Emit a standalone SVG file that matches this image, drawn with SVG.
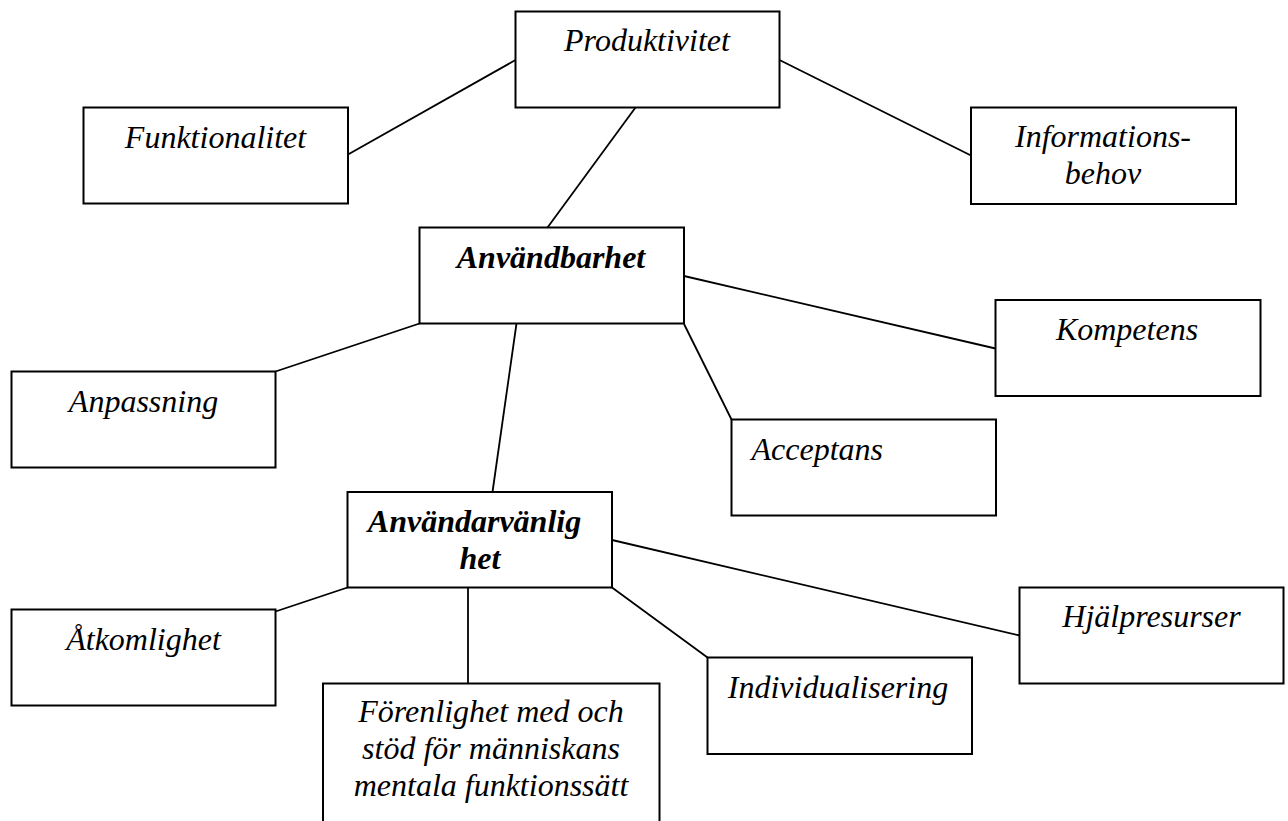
<svg xmlns="http://www.w3.org/2000/svg" width="1288" height="821" viewBox="0 0 1288 821">
  <style>
    .box { fill: #fff; stroke: #000; stroke-width: 2; }
    .lbl { font-family: "Liberation Serif", "Times New Roman", serif; font-style: italic; font-size: 32px; fill: #000; text-anchor: middle; }
    .bold { font-weight: bold; }
    .left { text-anchor: start; }
    #connectors line { stroke: #000; stroke-width: 1.8; }
  </style>
  <rect width="1288" height="821" fill="#fff"/>

  <!-- connectors between concept boxes -->
  <g id="connectors">
    <line x1="348" y1="154.5" x2="515.5" y2="60"/>
    <line x1="779.5" y1="60" x2="971" y2="155.5"/>
    <line x1="635.5" y1="107.5" x2="547.5" y2="227.5"/>
    <line x1="419.5" y1="323.5" x2="275.5" y2="371.5"/>
    <line x1="684" y1="276" x2="995.5" y2="348.5"/>
    <line x1="684" y1="324" x2="731.5" y2="419.5"/>
    <line x1="516.5" y1="323.5" x2="492.5" y2="492"/>
    <line x1="347.5" y1="587.5" x2="275.5" y2="611.5"/>
    <line x1="468" y1="587.5" x2="468" y2="683.5"/>
    <line x1="612" y1="587.5" x2="707.5" y2="657.5"/>
    <line x1="612" y1="540" x2="1019.5" y2="635.5"/>
  </g>

  <g id="produktivitet">
    <rect class="box" x="515.5" y="11.5" width="264" height="96"/>
    <text class="lbl" x="647" y="51">Produktivitet</text>
  </g>

  <g id="funktionalitet">
    <rect class="box" x="83.5" y="107.5" width="264.5" height="96"/>
    <text class="lbl" x="215.5" y="148">Funktionalitet</text>
  </g>

  <g id="informationsbehov">
    <rect class="box" x="971" y="107.5" width="265" height="96.5"/>
    <text class="lbl" x="1103" y="146.5">Informations-</text>
    <text class="lbl" x="1103" y="183.5">behov</text>
  </g>

  <g id="anvandbarhet">
    <rect class="box" x="419.5" y="227.5" width="264.5" height="96"/>
    <text class="lbl bold" x="551" y="268">Användbarhet</text>
  </g>

  <g id="anpassning">
    <rect class="box" x="11.5" y="371.5" width="264" height="96"/>
    <text class="lbl" x="143.5" y="411.5">Anpassning</text>
  </g>

  <g id="kompetens">
    <rect class="box" x="995.5" y="300" width="265" height="96"/>
    <text class="lbl" x="1127" y="340">Kompetens</text>
  </g>

  <g id="acceptans">
    <rect class="box" x="731.5" y="419.5" width="264.5" height="96"/>
    <text class="lbl left" x="751.5" y="459.5">Acceptans</text>
  </g>

  <g id="anvandarvanlighet">
    <rect class="box" x="347.5" y="492" width="264.5" height="95.5"/>
    <text class="lbl bold" x="474.5" y="531.5">Användarvänlig</text>
    <text class="lbl bold" x="480" y="568.5">het</text>
  </g>

  <g id="atkomlighet">
    <rect class="box" x="11.5" y="609.5" width="264" height="96"/>
    <text class="lbl" x="143.5" y="649.5">Åtkomlighet</text>
  </g>

  <g id="forenlighet">
    <rect class="box" x="323" y="683.5" width="336.5" height="150"/>
    <text class="lbl" x="491" y="721.5">Förenlighet med och</text>
    <text class="lbl" x="491" y="759">stöd för människans</text>
    <text class="lbl" x="491" y="796">mentala funktionssätt</text>
  </g>

  <g id="individualisering">
    <rect class="box" x="707.5" y="657.5" width="264.5" height="96.5"/>
    <text class="lbl" x="838" y="697.5">Individualisering</text>
  </g>

  <g id="hjalpresurser">
    <rect class="box" x="1019.5" y="587.5" width="264" height="96"/>
    <text class="lbl" x="1151.5" y="626.5">Hjälpresurser</text>
  </g>
</svg>
